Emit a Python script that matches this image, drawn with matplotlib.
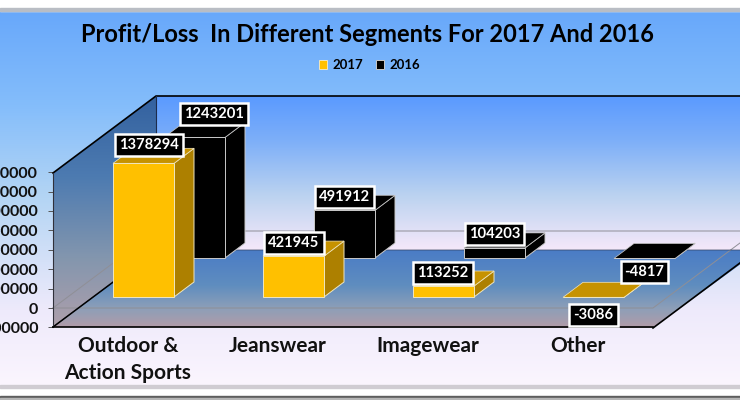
import matplotlib
matplotlib.use('Agg')
import matplotlib.pyplot as plt
import numpy as np
from matplotlib.colors import LinearSegmentedColormap
from matplotlib.patches import Polygon

plt.rcParams['font.family'] = ['Lato', 'DejaVu Sans']
plt.rcParams['font.weight'] = 'bold'

# values
categories = ['Outdoor &\nAction Sports', 'Jeanswear', 'Imagewear', 'Other']
values_2017 = [1378294, 421945, 113252, -3086]
values_2016 = [1243201, 491912, 104203, -4817]
y_ticks = [-200000, 0, 200000, 400000, 600000, 800000, 1000000, 1200000, 1400000]

# data label nudges in pixels from the top of each bar
nudge_2017 = [(5.5, -18), (0.5, -13), (-0.5, -13), (0, 18)]
nudge_2016 = [(19.5, -23), (0, -13), (0, -14), (0, 14)]

# 97 px per million, the zero line of the front plane sits at pixel row 308
PX = 1e6 / 97


def val(row):
    # pixel row -> value on the y axis
    return (308 - row) * PX


W, H = 740, 400
fig = plt.figure(figsize=(7.4, 4), dpi=100)
ax = fig.add_axes([0, 0, 1, 1])
ax.patch.set_visible(False)


def gradient(colors, top, bottom, clip=None, z=0):
    cmap = LinearSegmentedColormap.from_list('g', colors)
    g = np.linspace(0, 1, 256).reshape(-1, 1)
    im = ax.imshow(g, cmap=cmap, aspect='auto', zorder=z, interpolation='bilinear',
                   extent=(0, W, val(bottom), val(top)), origin='upper')
    if clip is not None:
        im.set_clip_path(Polygon([(x, val(r)) for x, r in clip], transform=ax.transData))


def poly(points, **kw):
    ax.add_patch(Polygon([(x, v) for x, v in points], **kw))


def line(points, **kw):
    ax.plot([p[0] for p in points], [val(p[1]) for p in points], **kw)


# chart background
gradient([(0, '#68a8fa'), (0.25, '#84bdfb'), (0.5, '#b4d5f4'),
          (0.8, '#eeeafb'), (1, '#fbf5fe')], 11, 385)
ax.axhspan(val(11), val(0), color='white', zorder=0.5)
ax.axhspan(val(11), val(8), color='#b9bdc4', zorder=0.6)
ax.axhspan(val(400), val(385), color='white', zorder=0.5)
ax.axhspan(val(388), val(385), color='#d0ccd2', zorder=0.6)
ax.axhspan(val(400), val(396), color='#5d5d5d', zorder=0.6)
ax.axhspan(val(400), val(398), color='#b5b5b5', zorder=0.7)

# 3d walls
gradient([(0, '#5a9aff'), (0.3, '#7fb0f8'), (0.65, '#bcd3f0'), (1, '#f5e8fa')], 96, 250,
         clip=[(156, 96), (760, 96), (760, 250), (156, 250)], z=1)
gradient([(0, '#4a7cc6'), (0.45, '#5f8dbf'), (0.75, '#8d9fb8'), (1, '#b39ba8')], 250, 328,
         clip=[(53, 327), (156, 250), (760, 250), (653, 328)], z=1)
gradient([(0, '#33619f'), (0.35, '#4d7bb1'), (0.7, '#8396ae'), (1, '#ae9fab')], 96, 327,
         clip=[(53, 173), (156, 96), (156, 250), (53, 327)], z=1)

line([(53, 308), (156, 231), (760, 231)], color='#8f8f96', lw=0.7, zorder=1.5)
line([(53, 308), (653, 308), (760, 228)], color='#8f8f96', lw=0.7, zorder=1.5)
line([(53, 327), (156, 250), (760, 250)], color='#33415e', lw=0.5, zorder=1.6)
line([(53, 327), (156, 250)], color='black', lw=1.1, zorder=1.7)
line([(53, 173), (156, 96), (760, 96)], color='black', lw=1.2, zorder=1.7)
line([(156, 96), (156, 250)], color='#1c2c4c', lw=0.8, zorder=1.7)
line([(653, 328), (760, 248)], color='black', lw=1.2, zorder=1.7)


def bars_3d(lefts, values, base_row, front, top_c, side_c, edge, z):
    base = val(base_row)
    dx, dy = 20, 15 * PX
    bars = ax.bar(lefts, values, width=61, bottom=base, align='edge', color=front,
                  edgecolor=edge, linewidth=0.7, zorder=z)
    for x, v in zip(lefts, values):
        t = base + v
        r = x + 61
        poly([(r, t), (r + dx, t + dy), (r + dx, base + dy), (r, base)],
             facecolor=side_c, edgecolor=edge, linewidth=0.7, zorder=z - 0.1)
        poly([(x, t), (r, t), (r + dx, t + dy), (x + dx, t + dy)],
             facecolor=top_c, edgecolor=edge, linewidth=0.5, zorder=z - 0.1)
    return bars


pos = np.arange(len(categories))
b16 = bars_3d(164 + 150 * pos, values_2016, 258, 'black', 'black', 'black', '#c9c9c9', 3)
b17 = bars_3d(113 + 150 * pos, values_2017, 297, '#ffc000', '#c69200', '#ad8000', '#f0e6c0', 5)


def labels(lefts, values, base_row, nudges):
    for x, v, (nx, ny) in zip(lefts, values, nudges):
        ax.annotate(str(v), xy=(x + 30.5, val(base_row) + v),
                    xytext=(nx * 0.72, -ny * 0.72), textcoords='offset points',
                    ha='center', va='center', color='white', fontsize=10.6, zorder=8,
                    bbox=dict(boxstyle='square,pad=0.27', facecolor='black',
                              edgecolor='white', linewidth=1.8))


labels(164 + 150 * pos, values_2016, 258, nudge_2016)
labels(113 + 150 * pos, values_2017, 297, nudge_2017)

# axes, spines moved onto the front edge of the 3d box
ax.set_xlim(0, W)
ax.set_ylim(val(H), val(0))
for s in ['top', 'right']:
    ax.spines[s].set_visible(False)
ax.spines['left'].set_position(('data', 53))
ax.spines['left'].set_bounds(val(327), val(173))
ax.spines['bottom'].set_position(('data', val(327)))
ax.spines['bottom'].set_bounds(53, 653)
ax.spines['bottom'].set_linewidth(1.2)
ax.spines['left'].set_color('#30303a')
for s in ['left', 'bottom']:
    ax.spines[s].set_zorder(2)
ax.set_yticks(y_ticks)
ax.set_yticklabels([str(t) for t in y_ticks], fontsize=11.5, color='#111111')
ax.tick_params(axis='y', length=3.6, width=0.7, pad=7, color='#555555')
ax.set_xticks(128 + 150 * pos)
ax.set_xticklabels(categories, fontsize=15, color='#111111', linespacing=1.42)
ax.tick_params(axis='x', length=0, pad=6.5)

ax.text(367, val(34), 'Profit/Loss  In Different Segments For 2017 And 2016', fontsize=17,
        ha='center', va='center', color='black', zorder=9)
ax.legend([b17, b16], ['2017', '2016'], ncol=2, frameon=False, fontsize=9.5,
          loc='center', bbox_to_anchor=(369.5 / W, 1 - 65 / H),
          handlelength=0.6, handleheight=0.6, handletextpad=0.4, columnspacing=1.0)

plt.savefig('out.png', dpi=100)
